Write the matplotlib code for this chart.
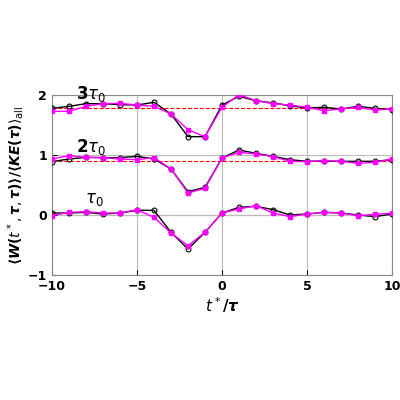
import matplotlib
matplotlib.use("Agg")
import matplotlib.pyplot as plt
import numpy as np

x = list(range(-10, 11))
# pixel readings converted to data units
def cv(z): return [(438 - v) / 180 for v in z]
t1_black = cv([432,432,430,435,432,424,424,490,540,490,432,415,412,422,438,435,430,432,438,443,435])
t1_mag = cv([440,430,428,432,432,422,445,492,530,490,432,420,410,432,443,435,430,432,440,436,433])
t2_black = cv([278,270,265,266,266,262,270,300,368,355,267,243,253,262,272,277,276,277,277,277,272])
t2_mag = cv([270,260,265,266,270,272,266,300,372,358,267,250,255,263,277,278,275,277,283,280,270])
t3_black = cv([118,112,104,104,107,108,100,135,203,203,108,82,95,102,110,117,115,120,112,118,122])
t3_mag = cv([127,127,112,104,103,108,112,135,182,203,115,77,95,104,108,115,125,120,115,123,120])
baselines = [0.0, 0.894, 1.78]
labels = [r"$\boldsymbol{\tau_0}$", r"$\mathbf{2}\boldsymbol{\tau_0}$", r"$\mathbf{3}\boldsymbol{\tau_0}$"]

fig = plt.figure(figsize=(4, 4), dpi=100)
ax = fig.add_axes([0.13, 0.3125, 0.85, 0.45])
for b in baselines:
    ax.axhline(b, color="red", ls="--", lw=0.8, zorder=1)
for yb, ym in [(t1_black, t1_mag), (t2_black, t2_mag), (t3_black, t3_mag)]:
    ax.plot(x, yb, color="black", lw=1, marker="o", ms=3.5, mfc="none", mew=0.8, zorder=3)
    ax.plot(x, ym, color="#ff00ff", lw=1, marker="s", ms=3.5, mec="#ff00ff", zorder=4)
labpos = [(-7.5, 0.25), (-7.7, 1.13), (-7.7, 2.02)]
for (lx, ly), t in zip(labpos, labels):
    ax.text(lx, ly, t, fontsize=12, ha="center", va="center", family="DejaVu Serif")
ax.set_xlim(-10, 10)
ax.set_ylim(-1, 2)
ax.set_xticks([-10, -5, 0, 5, 10])
ax.set_yticks([-1, 0, 1, 2])
ax.grid(True, color="#bbbbbb", lw=0.8)
ax.tick_params(labelsize=9, direction="in")
for lab in ax.get_xticklabels() + ax.get_yticklabels():
    lab.set_fontweight("bold")
for s in ax.spines.values():
    s.set_color("#888888")
ax.set_xlabel(r"$\boldsymbol{t^*/\tau}$", fontsize=11, labelpad=2)
ax.set_ylabel(r"$\boldsymbol{\langle W(t^*,\tau,\tau)\rangle/\langle KE(\tau)\rangle_{\rm all}}$", fontsize=10, labelpad=1)
fig.savefig("out.png", dpi=100)
